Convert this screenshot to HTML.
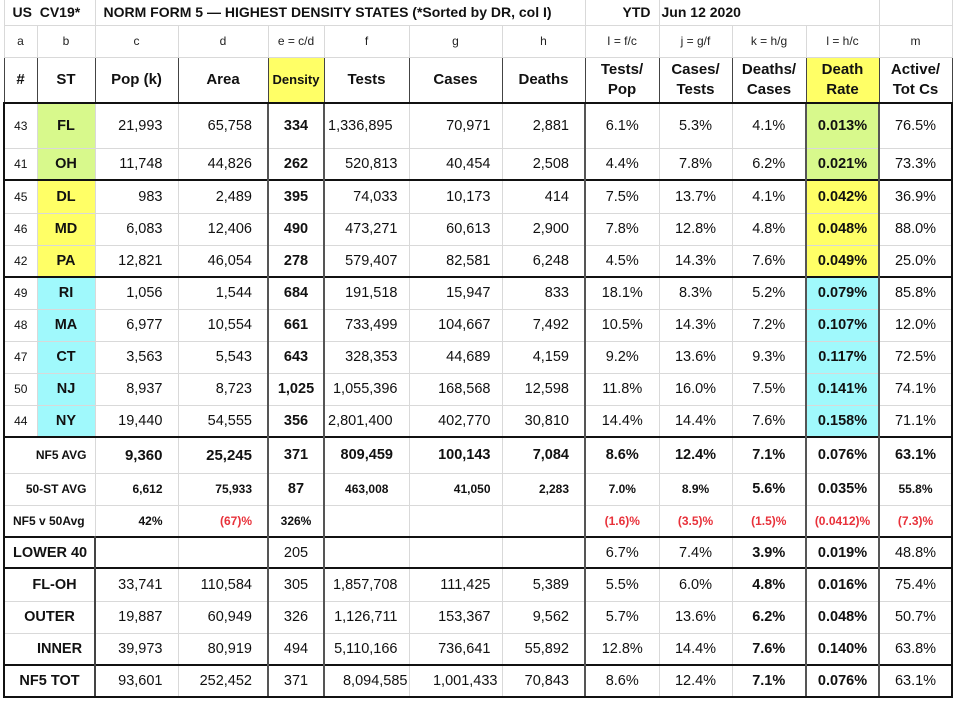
<!DOCTYPE html>
<html><head><meta charset="utf-8"><style>
html,body{margin:0;padding:0;background:#fff;width:956px;height:702px;overflow:hidden}
table{position:absolute;left:3px;top:0;border-collapse:collapse;table-layout:fixed;font-family:"Liberation Sans",Arial,sans-serif;color:#111}
td{border:1px solid #d9d9d9;padding:0;font-size:14.5px;text-align:center;white-space:nowrap;overflow:visible}
.r{text-align:right;padding-right:15px}
.rf{text-align:right;padding-right:11px}
.b{font-weight:bold}
.s{font-size:12px}
.a{font-size:12px}
.g{background:#d8f98c}.y{background:#ffff66}.c{background:#a0f9fc}
.red{color:#e8313a}
.hd td{border:1px solid #444;font-weight:bold;font-size:15px;line-height:20px}
.dk{border-left:2px solid #555!important}
.tk td{border-top:2px solid #111}
.lt td{font-size:12px;color:#222}
tr.title td{font-weight:bold;font-size:14px;text-align:left;border-top:none}
.L{border-left:2px solid #111!important}.R{border-right:2px solid #111!important}
.bot td{border-bottom:2px solid #111}
</style></head><body>
<table>
<colgroup><col style="width:33px"><col style="width:58px"><col style="width:83px"><col style="width:90px"><col style="width:56px"><col style="width:85px"><col style="width:93px"><col style="width:83px"><col style="width:74px"><col style="width:73px"><col style="width:74px"><col style="width:73px"><col style="width:73px"></colgroup>
<tr class="title" style="height:25px"><td colspan="2" style="padding-left:8px">US&nbsp; CV19*</td><td colspan="6" style="padding-left:8px">NORM FORM 5 — HIGHEST DENSITY STATES (*Sorted by DR, col I)</td><td style="text-align:right;padding-right:8px">YTD</td><td colspan="3" style="padding-left:2px">Jun 12 2020</td><td></td></tr>
<tr class="lt" style="height:32px"><td>a</td><td>b</td><td>c</td><td>d</td><td>e = c/d</td><td>f</td><td>g</td><td>h</td><td>I = f/c</td><td>j = g/f</td><td>k = h/g</td><td>l = h/c</td><td>m</td></tr>
<tr class="hd" style="height:46px"><td>#</td><td>ST</td><td>Pop (k)</td><td>Area</td><td class="y" style="font-size:13px">Density</td><td>Tests</td><td>Cases</td><td>Deaths</td><td>Tests/<br>Pop</td><td>Cases/<br>Tests</td><td>Deaths/<br>Cases</td><td class="y">Death<br>Rate</td><td>Active/<br>Tot Cs</td></tr>
<tr class="tk" style="height:45px"><td class="a L">43</td><td class="g b">FL</td><td class="r">21,993</td><td class="r">65,758</td><td class="b dk">334</td><td class="dk" style="text-align:left;padding-left:3px">1,336,895</td><td class="rf">70,971</td><td class="r">2,881</td><td class="dk">6.1%</td><td>5.3%</td><td>4.1%</td><td class="g b dk">0.013%</td><td class="dk R">76.5%</td></tr>
<tr style="height:32px"><td class="a L">41</td><td class="g b">OH</td><td class="r">11,748</td><td class="r">44,826</td><td class="b dk">262</td><td class="dk rf">520,813</td><td class="rf">40,454</td><td class="r">2,508</td><td class="dk">4.4%</td><td>7.8%</td><td>6.2%</td><td class="g b dk">0.021%</td><td class="dk R">73.3%</td></tr>
<tr class="tk" style="height:33px"><td class="a L">45</td><td class="y b">DL</td><td class="r">983</td><td class="r">2,489</td><td class="b dk">395</td><td class="dk rf">74,033</td><td class="rf">10,173</td><td class="r">414</td><td class="dk">7.5%</td><td>13.7%</td><td>4.1%</td><td class="y b dk">0.042%</td><td class="dk R">36.9%</td></tr>
<tr style="height:32px"><td class="a L">46</td><td class="y b">MD</td><td class="r">6,083</td><td class="r">12,406</td><td class="b dk">490</td><td class="dk rf">473,271</td><td class="rf">60,613</td><td class="r">2,900</td><td class="dk">7.8%</td><td>12.8%</td><td>4.8%</td><td class="y b dk">0.048%</td><td class="dk R">88.0%</td></tr>
<tr style="height:32px"><td class="a L">42</td><td class="y b">PA</td><td class="r">12,821</td><td class="r">46,054</td><td class="b dk">278</td><td class="dk rf">579,407</td><td class="rf">82,581</td><td class="r">6,248</td><td class="dk">4.5%</td><td>14.3%</td><td>7.6%</td><td class="y b dk">0.049%</td><td class="dk R">25.0%</td></tr>
<tr class="tk" style="height:32px"><td class="a L">49</td><td class="c b">RI</td><td class="r">1,056</td><td class="r">1,544</td><td class="b dk">684</td><td class="dk rf">191,518</td><td class="rf">15,947</td><td class="r">833</td><td class="dk">18.1%</td><td>8.3%</td><td>5.2%</td><td class="c b dk">0.079%</td><td class="dk R">85.8%</td></tr>
<tr style="height:32px"><td class="a L">48</td><td class="c b">MA</td><td class="r">6,977</td><td class="r">10,554</td><td class="b dk">661</td><td class="dk rf">733,499</td><td class="rf">104,667</td><td class="r">7,492</td><td class="dk">10.5%</td><td>14.3%</td><td>7.2%</td><td class="c b dk">0.107%</td><td class="dk R">12.0%</td></tr>
<tr style="height:32px"><td class="a L">47</td><td class="c b">CT</td><td class="r">3,563</td><td class="r">5,543</td><td class="b dk">643</td><td class="dk rf">328,353</td><td class="rf">44,689</td><td class="r">4,159</td><td class="dk">9.2%</td><td>13.6%</td><td>9.3%</td><td class="c b dk">0.117%</td><td class="dk R">72.5%</td></tr>
<tr style="height:32px"><td class="a L">50</td><td class="c b">NJ</td><td class="r">8,937</td><td class="r">8,723</td><td class="b dk">1,025</td><td class="dk rf">1,055,396</td><td class="rf">168,568</td><td class="r">12,598</td><td class="dk">11.8%</td><td>16.0%</td><td>7.5%</td><td class="c b dk">0.141%</td><td class="dk R">74.1%</td></tr>
<tr style="height:32px"><td class="a L">44</td><td class="c b">NY</td><td class="r">19,440</td><td class="r">54,555</td><td class="b dk">356</td><td class="dk" style="text-align:left;padding-left:3px">2,801,400</td><td class="rf">402,770</td><td class="r">30,810</td><td class="dk">14.4%</td><td>14.4%</td><td>7.6%</td><td class="c b dk">0.158%</td><td class="dk R">71.1%</td></tr>
<tr class="tk b" style="height:36px;font-weight:bold"><td colspan="2" class="L" style="text-align:right;padding-right:8px;font-size:12px">NF5 AVG</td><td class="r b" style="font-size:15px">9,360</td><td class="r b" style="font-size:15px">25,245</td><td class="b dk">371</td><td class="dk b">809,459</td><td class="rf b">100,143</td><td class="r b">7,084</td><td class="dk b">8.6%</td><td class="b">12.4%</td><td class="b">7.1%</td><td class="b dk">0.076%</td><td class="dk b R">63.1%</td></tr>
<tr style="height:32px"><td colspan="2" class="L b s" style="text-align:right;padding-right:8px">50-ST AVG</td><td class="r b s">6,612</td><td class="r b s">75,933</td><td class="b dk">87</td><td class="dk b s">463,008</td><td class="rf b s">41,050</td><td class="r b s">2,283</td><td class="dk b s">7.0%</td><td class="b s">8.9%</td><td class="b">5.6%</td><td class="b dk">0.035%</td><td class="dk b s R">55.8%</td></tr>
<tr style="height:32px"><td colspan="2" class="L b s" style="text-align:left;padding-left:8px;border-top:1px solid #666">NF5 v 50Avg</td><td class="r b s" style="border-top:1px solid #666">42%</td><td class="r b s red" style="border-top:1px solid #666">(67)%</td><td class="b s dk" style="border-top:1px solid #666">326%</td><td class="dk" style="border-top:1px solid #666"></td><td style="border-top:1px solid #666"></td><td style="border-top:1px solid #666"></td><td class="dk b s red" style="border-top:1px solid #666">(1.6)%</td><td class="b s red" style="border-top:1px solid #666">(3.5)%</td><td class="b s red" style="border-top:1px solid #666">(1.5)%</td><td class="b s red dk" style="border-top:1px solid #666">(0.0412)%</td><td class="dk b s red R" style="border-top:1px solid #666">(7.3)%</td></tr>
<tr class="tk" style="height:31px"><td colspan="2" class="L b" style="text-align:left;padding-left:8px;border-right:2px solid #444">LOWER 40</td><td></td><td></td><td class="dk">205</td><td class="dk"></td><td></td><td></td><td class="dk">6.7%</td><td>7.4%</td><td class="b">3.9%</td><td class="b dk">0.019%</td><td class="dk R">48.8%</td></tr>
<tr class="tk" style="height:33px"><td colspan="2" class="L b" style="border-right:2px solid #444;padding-left:10px">FL-OH</td><td class="r">33,741</td><td class="r">110,584</td><td class="dk">305</td><td class="dk rf">1,857,708</td><td class="rf">111,425</td><td class="r">5,389</td><td class="dk">5.5%</td><td>6.0%</td><td class="b">4.8%</td><td class="b dk">0.016%</td><td class="dk R">75.4%</td></tr>
<tr style="height:32px"><td colspan="2" class="L b" style="border-right:2px solid #444">OUTER</td><td class="r">19,887</td><td class="r">60,949</td><td class="dk">326</td><td class="dk rf">1,126,711</td><td class="rf">153,367</td><td class="r">9,562</td><td class="dk">5.7%</td><td>13.6%</td><td class="b">6.2%</td><td class="b dk">0.048%</td><td class="dk R">50.7%</td></tr>
<tr style="height:32px"><td colspan="2" class="L b" style="border-right:2px solid #444;padding-left:20px">INNER</td><td class="r">39,973</td><td class="r">80,919</td><td class="dk">494</td><td class="dk rf">5,110,166</td><td class="rf">736,641</td><td class="r">55,892</td><td class="dk">12.8%</td><td>14.4%</td><td class="b">7.6%</td><td class="b dk">0.140%</td><td class="dk R">63.8%</td></tr>
<tr class="tk bot" style="height:32px"><td colspan="2" class="L b" style="border-right:2px solid #444">NF5 TOT</td><td class="r">93,601</td><td class="r">252,452</td><td class="dk">371</td><td class="dk" style="text-align:right;padding-right:1px">8,094,585</td><td style="text-align:right;padding-right:4px">1,001,433</td><td class="r">70,843</td><td class="dk">8.6%</td><td>12.4%</td><td class="b">7.1%</td><td class="b dk">0.076%</td><td class="dk R">63.1%</td></tr>
</table>
</body></html>
